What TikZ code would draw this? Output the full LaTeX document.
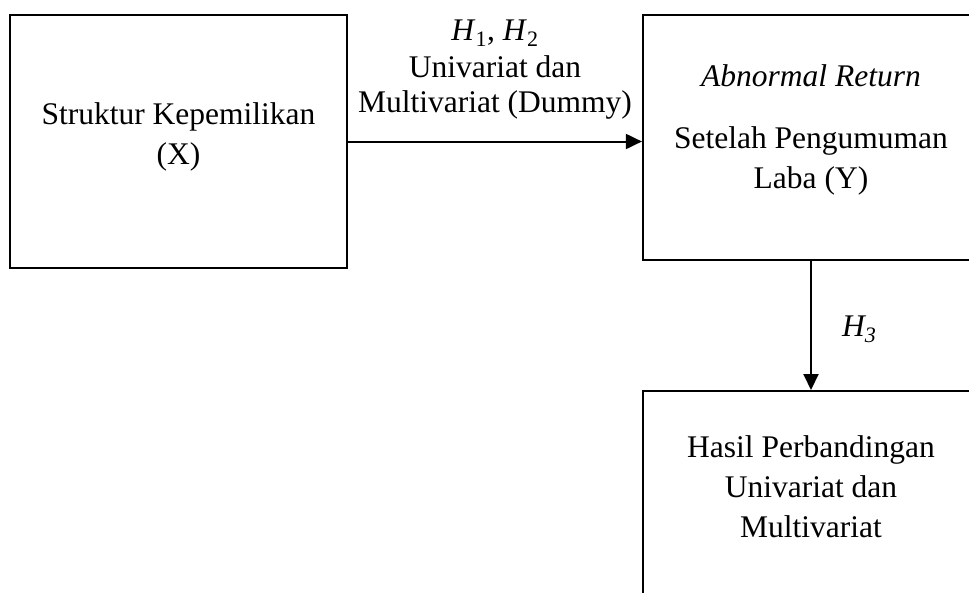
\documentclass[tikz,border=0pt]{standalone}
\usepackage{fontspec}
\setmainfont{Liberation Serif}
\usepackage{xcolor}
\usepackage{tikz}
\usetikzlibrary{arrows.meta}
\definecolor{ink}{HTML}{000000}
\definecolor{paper}{HTML}{FFFFFF}
\tikzset{
  box/.style={draw=ink, line width=2.2pt, rectangle, inner sep=0pt},
  link/.style={draw=ink, line width=2pt, -{Triangle[length=16pt,width=15pt]}},
  lab/.style={text=ink, align=center, font=\fontsize{31.5}{35}\selectfont, inner sep=2pt},
  txt/.style={text=ink, align=center, font=\fontsize{31.5}{40}\selectfont, inner sep=0pt},
}

\begin{document}
\begin{tikzpicture}[x=1pt,y=-1pt]
  \fill[paper] (0,0) rectangle (969,592);
  \useasboundingbox (0,0) rectangle (969,592);
  \clip (0,0) rectangle (969,592);
  % boxes
  \node[box, minimum width=337pt, minimum height=253pt] (own) at (178.5,141.5) {};
  \node[box, minimum width=336pt, minimum height=245pt] (ret) at (811,137.5) {};
  \node[box, minimum width=336pt, minimum height=260pt, anchor=north] (cmp) at (811,390) {};
  % texts
  \node[txt] (ownt) at (178.5,137) {Struktur Kepemilikan\\(X)};
  \node[txt] (rett) at (811,130) {\textit{Abnormal Return}\\[22pt]Setelah Pengumuman\\Laba (Y)};
  \node[txt] (cmpt) at (811,487) {Hasil Perbandingan\\Univariat dan\\Multivariat};
  % arrows
  \draw[link] (own.east) -- (own.east -| ret.west)
    node[lab, midway, above=19pt] (h12) {\textit{H}\textsubscript{1}, \textit{H}\textsubscript{2}\\[2pt]Univariat dan\\Multivariat (Dummy)};
  \draw[link] (ret.south) -- (cmp.north)
    node[lab, midway, right=28pt, yshift=-4pt] (h3) {\textit{H\textsubscript{3}}};
\end{tikzpicture}
\end{document}
